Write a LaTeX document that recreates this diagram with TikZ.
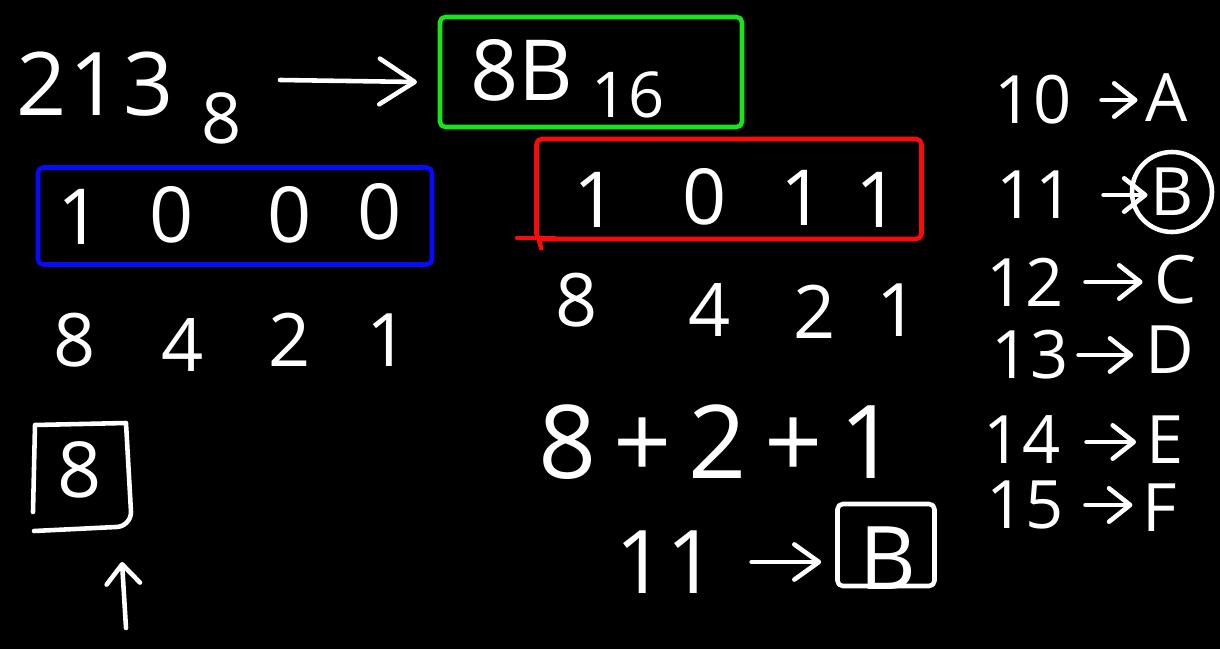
\documentclass[tikz,border=0pt]{standalone}
\usepackage{fontspec}
\setmainfont{Open Sans}
\usetikzlibrary{arrows.meta,calc}
\definecolor{chalkgreen}{RGB}{24,228,24}
\definecolor{chalkblue}{RGB}{10,10,250}
\definecolor{chalkred}{RGB}{250,10,10}
\tikzset{
  hw/.style={text=white, inner sep=0pt, font=\fontsize{#1}{#1}\selectfont},
  hw/.default=40,
  stroke/.style={line width=2.6pt, line cap=round, line join=round},
  arr/.style 2 args={stroke, draw=white, -{Straight Barb[length=#1,width=#2,line width=2.6pt,round]}},
  frame/.style={stroke, rounded corners=3pt, inner sep=0pt}
}
\begin{document}
\begin{tikzpicture}[x=0.02cm,y=-0.02cm]
\fill[black] (0,0) rectangle (1220,649);
\useasboundingbox (0,0) rectangle (1220,649);

% 213_8 -> 8B_16
\node[hw=50] (n213) at (95,84) {2\kern2pt1\kern2pt3};
\node[hw=40] (sub8) at (222,118) {8};
\coordinate (a1s) at (280,80);
\coordinate (a1e) at (417,82);
\draw[arr={20pt}{26pt}] (a1s) -- (a1e);
\node[frame, draw=chalkgreen, minimum width=302*0.02cm, minimum height=110*0.02cm] (gbox) at (591,72) {};
\node[hw=48] (n8B) at (522,70) {8B};
\node[hw=36] (sub16) at (628,95) {16};

% blue box 1000
\node[frame, draw=chalkblue, minimum width=394*0.02cm, minimum height=97*0.02cm] (bbox) at (235,216) {};
\node[hw=44] (b1) at (80,217) {1};
\node[hw=44] (b2) at (172,215) {0};
\node[hw=44] (b3) at (290,215) {0};
\node[hw=44] (b4) at (380,212) {0};
\node[hw=42] (w1) at (75,340) {8};
\node[hw=42] (w2) at (183,345) {4};
\node[hw=42] (w3) at (290,340) {2};
\node[hw=42] (w4) at (388,340) {1};

% boxed 8 and up arrow
\node[hw=44] (box8) at (80,470) {8};
\draw[stroke, draw=white] (33,512) -- (35,425) -- (126,423) -- (131,512) to[out=270,in=0] (116,527) -- (34,531);
\coordinate (up1) at (126,628);
\coordinate (up2) at (122,562);
\draw[arr={11pt}{19pt}] (up1) -- (up2);

% red box 1011
\node[frame, draw=chalkred, minimum width=385*0.02cm, minimum height=100*0.02cm] (rbox) at (729,189) {};
\coordinate (rl) at (517,238);
\draw[stroke, draw=chalkred] (rl) -- (rbox.south west |- rl) -- ++(20,0);
\draw[stroke, draw=chalkred] (rbox.south west) ++(5,0) -- ++(2,7);
\node[hw=44] (r1) at (596,200) {1};
\node[hw=44] (r2) at (705,197) {0};
\node[hw=44] (r3) at (803,198) {1};
\node[hw=44] (r4) at (878,200) {1};
\node[hw=42] (v1) at (577,300) {8};
\node[hw=42] (v2) at (710,310) {4};
\node[hw=42] (v3) at (815,312) {2};
\node[hw=42] (v4) at (898,310) {1};

% 8+2+1
\node[hw=58] (sum) at (718,442) {8\,+\,2\,+\,1};

% 11 -> [B]
\node[hw=50] (e11) at (666,562) {11};
\node[hw=50] (eB) at (888,558) {B};
\node[frame, draw=white, minimum width=97*0.02cm, minimum height=82*0.02cm] (ebox) at (886,545) {};
\draw[arr={14pt}{20pt}] (e11.east) ++(35,0) coordinate (ea) -- ($(ebox.west |- ea)+(-14,0)$);

% right column table
\tikzset{tarr/.style={arr={12pt}{19pt}}}
\node[hw=38] (k10) at (1033,100) {10};
\node[hw=38] (vA) at (1167,98) {A};
\draw[tarr] (k10.east) ++(30,0) coordinate (t1) -- ($(vA.west |- t1)+(-8,0)$);
\node[hw=38] (k11) at (1035,195) {11};
\node[hw=38] (vB) at (1172,192) {B};
\draw[stroke, draw=white] (vB) circle (40);
\draw[tarr] (k11.east) ++(30,0) coordinate (t2) -- ++(44,0);
\node[hw=38] (k12) at (1025,282) {12};
\node[hw=38] (vC) at (1176,280) {C};
\draw[tarr] (k12.east) ++(22,0) coordinate (t3) -- ($(vC.west |- t3)+(-12,0)$);
\node[hw=38] (k13) at (1030,355) {13};
\node[hw=38] (vD) at (1170,350) {D};
\draw[tarr] (k13.east) ++(10,0) coordinate (t4) -- ($(vD.west |- t4)+(-12,0)$);
\node[hw=38] (k14) at (1022,440) {14};
\node[hw=38] (vE) at (1165,440) {E};
\draw[tarr] (k14.east) ++(26,2) coordinate (t5) -- ($(vE.west |- t5)+(-10,0)$);
\node[hw=38] (k15) at (1025,505) {15};
\node[hw=38] (vF) at (1160,508) {F};
\draw[tarr] (k15.east) ++(22,0) coordinate (t6) -- ($(vF.west |- t6)+(-10,0)$);
\end{tikzpicture}
\end{document}
